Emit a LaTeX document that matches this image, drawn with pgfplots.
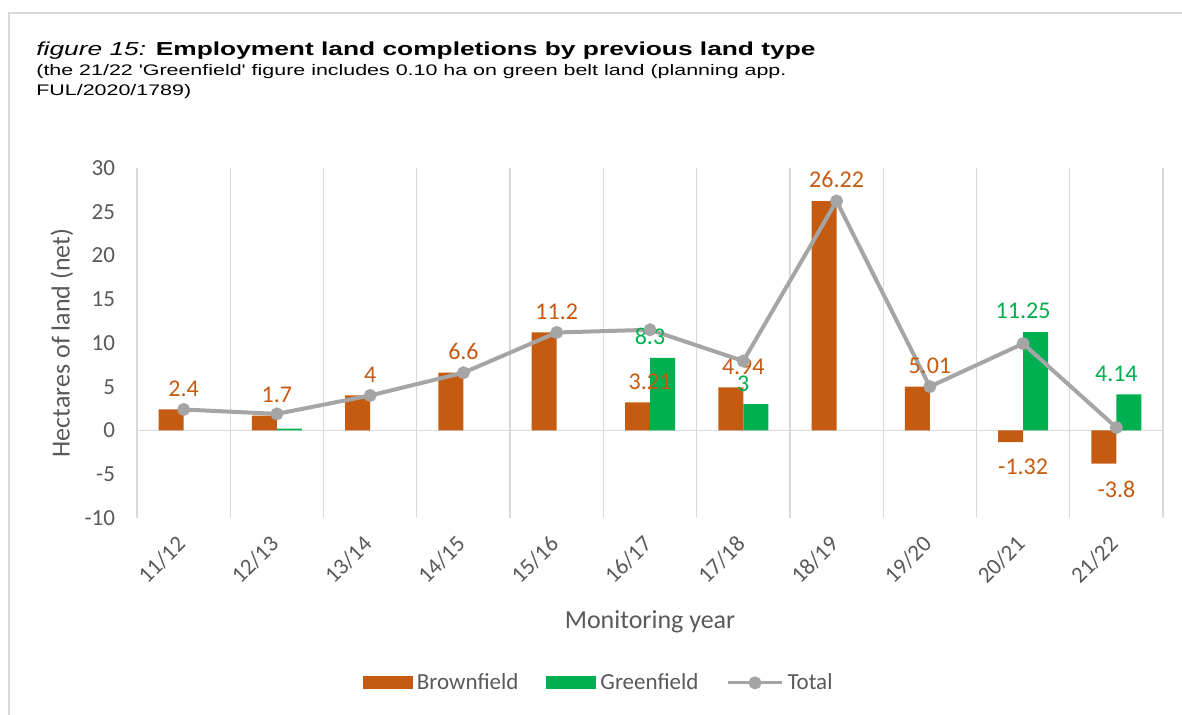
\documentclass[border=0pt]{standalone}
\usepackage{pgfplots}
\pgfplotsset{compat=1.18}
\usepackage{pgfplotstable}
\usepackage{fontspec}
\setmainfont{Carlito}
\newfontfamily\arialfont{Liberation Sans}

\definecolor{brown}{HTML}{C55A11}
\definecolor{green}{HTML}{00B050}
\definecolor{total}{HTML}{A5A5A5}
\definecolor{gridc}{HTML}{D9D9D9}
\definecolor{txt}{HTML}{595959}

% x = category index (11/12 = 0 ... 21/22 = 10)
\pgfplotstableread{
x   y      lab
0   2.4    2.4
1   1.7    1.7
2   4      4
3   6.6    6.6
4   11.2   11.2
5   3.21   3.21
6   4.94   4.94
7   26.22  26.22
8   5.01   5.01
}\brownpos

\pgfplotstableread{
x   y      lab
9   -1.32  -1.32
10  -3.8   -3.8
}\brownneg

\pgfplotstableread{
x   y      lab
1   0.2    {}
5   8.3    8.3
6   3      3
9   11.25  11.25
10  4.14   4.14
}\greenfield

\pgfplotstableread{
x   y
0   2.4
1   1.9
2   4
3   6.6
4   11.2
5   11.51
6   7.94
7   26.22
8   5.01
9   9.93
10  0.34
}\total

\begin{document}
\begin{tikzpicture}
\path[use as bounding box] (0,0) rectangle (591pt,357.5pt);
\draw[gridc, line width=1pt] (4.5pt,0) -- (4.5pt,351pt) -- (591pt,351pt);

\node[anchor=base west, inner sep=0pt, font=\arialfont\fontsize{9.4}{11}\selectfont] at (18pt,329.5pt)
  {\scalebox{1.4}[1]{\textit{figure 15:} \textbf{Employment land completions by previous land type}}};
\node[anchor=base west, inner sep=0pt, font=\arialfont\fontsize{7.65}{10}\selectfont] at (18pt,319.5pt)
  {\scalebox{1.4}[1]{(the 21/22 'Greenfield' figure includes 0.10 ha on green belt land (planning app.}};
\node[anchor=base west, inner sep=0pt, font=\arialfont\fontsize{7.65}{10}\selectfont] at (18pt,309.5pt)
  {\scalebox{1.4}[1]{FUL/2020/1789)}};

\begin{axis}[
    at={(68.5pt,98.5pt)}, anchor=south west,
    scale only axis,
    width=513pt, height=175pt,
    xmin=-0.5, xmax=10.5,
    ymin=-10, ymax=30,
    xtick={0,...,10},
    xticklabels={11/12,12/13,13/14,14/15,15/16,16/17,17/18,18/19,19/20,20/21,21/22},
    minor xtick={-0.5,0.5,...,10.5},
    xminorgrids=true,
    minor grid style={gridc, line width=0.6pt},
    ytick={-10,-5,...,30},
    yticklabels={-10,-5,0,5,10,15,20,25,30},
    extra y ticks={0},
    extra y tick labels={},
    extra y tick style={grid=major, major grid style={gridc, line width=0.9pt}},
    axis line style={draw=none},
    major tick length=0pt, minor tick length=0pt,
    tick label style={font=\fontsize{11.5}{13}\selectfont, text=txt},
    xticklabel style={yshift=-11pt, xshift=-1pt, rotate=45, anchor=east, inner sep=0pt},
    yticklabel style={xshift=-7.5pt},
    xlabel={Monitoring year},
    ylabel={Hectares of land (net)},
    label style={font=\fontsize{13}{15}\selectfont, text=txt},
    xlabel style={at={(rel axis cs:0.5,0)}, anchor=center, yshift=-52pt},
    ylabel style={at={(rel axis cs:0,0.5)}, anchor=center, yshift=37.5pt},
    legend columns=3,
    legend style={draw=none, at={(0.451,-0.471)}, anchor=center,
        font=\fontsize{11.5}{13}\selectfont, text=txt,
        /tikz/every even column/.append style={column sep=12pt}},
    legend cell align=left,
    clip=false,
]
\addplot[ybar, bar width=12.5pt, bar shift=-6.25pt, fill=brown, draw=none,
    point meta=explicit symbolic,
    nodes near coords,
    every node near coord/.append style={font=\fontsize{12}{14}\selectfont, text=brown, anchor=south, yshift=3pt},
    area legend,
    legend image code/.code={\fill[brown] (0pt,-3.25pt) rectangle (25pt,3.25pt);}]
    table[x=x, y=y, meta=lab] {\brownpos};
\addlegendentry{Brownfield}
\addplot[ybar, bar width=12.5pt, bar shift=6.25pt, fill=green, draw=none,
    point meta=explicit symbolic,
    nodes near coords,
    every node near coord/.append style={font=\fontsize{12}{14}\selectfont, text=green, anchor=south, yshift=3pt},
    area legend,
    legend image code/.code={\fill[green] (0pt,-3.25pt) rectangle (25pt,3.25pt);}]
    table[x=x, y=y, meta=lab] {\greenfield};
\addlegendentry{Greenfield}
\addplot[total, line width=2pt, mark=*, mark size=2.2pt, mark options={fill=total, draw=total},
    legend image code/.code={\draw[total, line width=1.5pt] (0pt,0pt) -- (27pt,0pt);
        \fill[total] (13.5pt,0pt) circle (2.2pt);}]
    table[x=x, y=y] {\total};
\addlegendentry{Total}
\addplot[ybar, bar width=12.5pt, bar shift=-6.25pt, fill=brown, draw=none,
    point meta=explicit symbolic,
    nodes near coords,
    every node near coord/.append style={font=\fontsize{12}{14}\selectfont, text=brown, anchor=north, yshift=-5pt},
    forget plot]
    table[x=x, y=y, meta=lab] {\brownneg};
\end{axis}
\end{tikzpicture}
\end{document}
